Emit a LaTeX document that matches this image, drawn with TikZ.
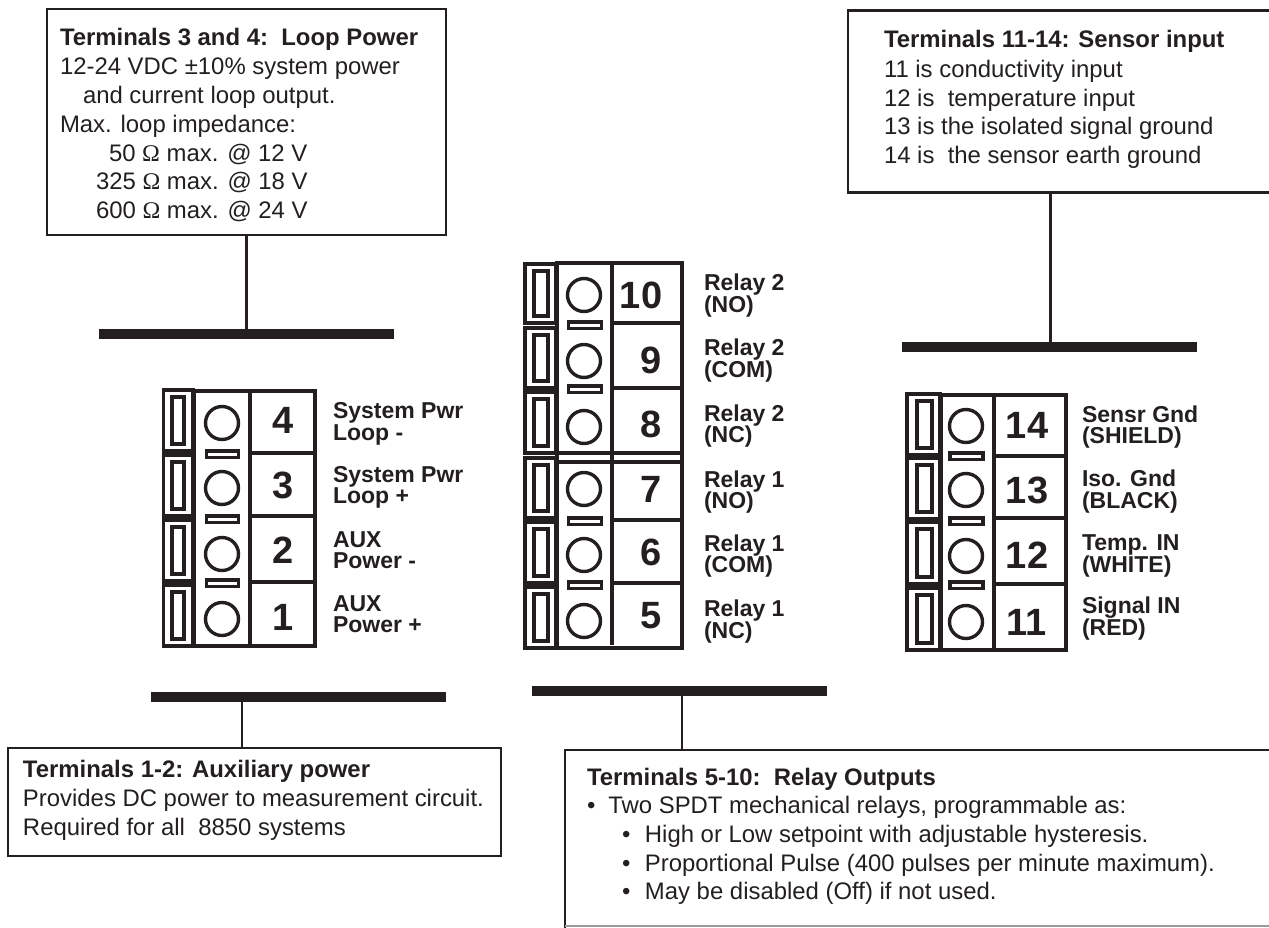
\documentclass[tikz,border=0pt]{standalone}
\usepackage{fontspec}
\setmainfont{Liberation Sans}
\newfontfamily\omegafont{Liberation Serif}
\definecolor{ink}{HTML}{231F20}
\tikzset{
  x=1pt,y=-1pt,
  ink lines/.style={draw=ink,line width=3.6pt},
  boxframe/.style={draw=ink,line width=2.6pt,fill=none,rectangle,inner sep=0pt,outer sep=0pt},
  connector/.style={draw=ink,line width=2.8pt},
  busbar/.style={fill=ink,draw=none,rectangle,inner sep=0pt,outer sep=0pt,minimum width=295pt,minimum height=10.5pt},
  bodytext/.style={anchor=base west,inner sep=0pt,outer sep=0pt,text=ink,font=\fontsize{23.9}{28}\selectfont},
  headtext/.style={bodytext,font=\fontsize{23.9}{28}\selectfont\bfseries},
  numtext/.style={anchor=base,inner sep=0pt,outer sep=0pt,text=ink,font=\fontsize{38}{40}\selectfont\bfseries},
  lbltext/.style={anchor=base west,inner sep=0pt,outer sep=0pt,text=ink,font=\fontsize{23}{23}\selectfont\bfseries},
}
\newcommand{\ohm}{{\omegafont Ω}}
\newcommand{\tabrow}[6]{%
  \draw[ink lines] (#1,#5) rectangle (#2,#6);
  \draw[ink lines] (#3,#5+7) rectangle (#4,#6-7);
}
\newcommand{\slit}[3]{\draw[draw=ink,line width=3.4pt] (#1,#3) rectangle (#2,#3+6.5);}
\begin{document}
\begin{tikzpicture}
\useasboundingbox (0,0) rectangle (1269,927);
\clip (0,0) rectangle (1269,927);

% ---- text boxes
\node[boxframe,minimum width=399pt,minimum height=226pt] (box1) at (246.5,122) {};
\node[boxframe,minimum width=440pt,minimum height=182pt] (box2) at (1068,101.5) {};
\node[boxframe,minimum width=493pt,minimum height=108pt] (box3) at (254.5,802) {};
\node[boxframe,minimum width=720pt,minimum height=178pt,draw=none] (box4) at (925,839) {};
\draw[draw=ink,line width=2.6pt] (box4.south west) -- (box4.north west) -- (box4.north east);
\draw[draw=ink!45,line width=1.2pt] (box4.south west) ++(0,-2) -- ++(720,0);

% ---- bars and connectors
\node[busbar] (bar1) at (246.5,334) {};
\node[busbar] (bar2) at (1049.5,347) {};
\node[busbar] (bar3) at (298.5,697) {};
\node[busbar] (bar4) at (679.5,691) {};
\coordinate (j1) at (246.5,329);
\coordinate (j2) at (1050.5,342);
\coordinate (j3) at (242,702);
\coordinate (j4) at (682,696);
\draw[connector] (box1.south -| j1) -- (j1);
\draw[connector] (box2.south -| j2) -- (j2);
\draw[connector] (j3) -- (j3 |- box3.north);
\draw[connector] (j4) -- (j4 |- box4.north);

% ---- box 1 text
\node[headtext] (t1a) at (60,45) {Terminals 3 and 4:\ \ Loop Power};
\node[bodytext] (t1b) at (60,74) {12-24 VDC ±10\% system power};
\node[bodytext] (t1c) at (83,103) {and current loop output.};
\node[bodytext] (t1d) at (60,132) {Max. loop impedance:};
\node[bodytext] (t1e) at (109,161) {50 \ohm{} max. @ 12 V};
\node[bodytext] (t1f) at (96,189) {325 \ohm{} max. @ 18 V};
\node[bodytext] (t1g) at (96,218) {600 \ohm{} max. @ 24 V};

% ---- box 2 text
\node[headtext] (t2a) at (884,47) {Terminals 11-14: Sensor input};
\node[bodytext] (t2b) at (884,77) {11 is conductivity input};
\node[bodytext] (t2c) at (884,106) {12 is\ \ temperature input};
\node[bodytext] (t2d) at (884,134) {13 is the isolated signal ground};
\node[bodytext] (t2e) at (884,163) {14 is\ \ the sensor earth ground};

% ---- box 3 text
\node[headtext] (t3a) at (23,777) {Terminals 1-2: Auxiliary power};
\node[bodytext] (t3b) at (23,806) {Provides DC power to measurement circuit.};
\node[bodytext] (t3c) at (23,835) {Required for all\ \ 8850 systems};

% ---- box 4 text
\node[headtext] (t4a) at (587,785) {Terminals 5-10:\ \ Relay Outputs};
\node[bodytext] (t4b) at (587,813) {•\hspace{13pt}Two SPDT mechanical relays, programmable as:};
\node[bodytext] (t4c) at (622,842) {•\hspace{14.6pt}High or Low setpoint with adjustable hysteresis.};
\node[bodytext] (t4d) at (622,871) {•\hspace{14.6pt}Proportional Pulse (400 pulses per minute maximum).};
\node[bodytext] (t4e) at (622,899) {•\hspace{14.6pt}May be disabled (Off) if not used.};

% ---- terminal block 1..4
\foreach \a/\b in {390/451,455/516,520/581,585/646} {\tabrow{163.5}{193}{172}{184}{\a}{\b}}
\draw[ink lines] (194,391) rectangle (315,646);
\draw[ink lines] (250,391) -- (250,646);
\foreach \y in {453,516,582} \draw[ink lines] (250,\y) -- (315,\y);
\foreach \y in {423,488,554,619} \draw[draw=ink,line width=3.4pt] (222,\y) circle (16.5);
\foreach \y in {451,516,580} {\slit{206.5}{238.5}{\y}}
\foreach \n/\y in {4/433,3/498,2/563,1/630} \node[numtext] (n\n) at (283,\y) {\n};
\node[lbltext] (l4a) at (333,418) {System Pwr};
\node[lbltext] (l4b) at (333,440) {Loop -};
\node[lbltext] (l3a) at (333,482) {System Pwr};
\node[lbltext] (l3b) at (333,503) {Loop +};
\node[lbltext] (l2a) at (333,547) {AUX};
\node[lbltext] (l2b) at (333,568) {Power -};
\node[lbltext] (l1a) at (333,611) {AUX};
\node[lbltext] (l1b) at (333,632) {Power +};

% ---- terminal block 5..10
\foreach \a/\b in {264/323,328/388,392/453,458/518,522/583,587/648} {\tabrow{525}{556}{534}{548}{\a}{\b}}
\draw[ink lines] (557,263) rectangle (682,648);
\draw[ink lines] (612,263) -- (612,645);
\foreach \y in {323,388,520,583} \draw[ink lines] (612,\y) -- (682,\y);
\foreach \y in {453,462} \draw[ink lines] (557,\y) -- (682,\y);
\foreach \y in {295,361,427,489,555,621} \draw[draw=ink,line width=3.4pt] (584,\y) circle (16.5);
\foreach \y in {322,386,518,582} {\slit{568.5}{601.5}{\y}}
\node[numtext] (n10) at (641,308) {10};
\foreach \n/\y in {9/373,8/437,7/502,6/565,5/628} \node[numtext] (n\n) at (651,\y) {\n};
\node[lbltext] (l10a) at (704,290) {Relay 2};
\node[lbltext] (l10b) at (704,312) {(NO)};
\node[lbltext] (l9a) at (704,355) {Relay 2};
\node[lbltext] (l9b) at (704,377) {(COM)};
\node[lbltext] (l8a) at (704,421) {Relay 2};
\node[lbltext] (l8b) at (704,442) {(NC)};
\node[lbltext] (l7a) at (704,487) {Relay 1};
\node[lbltext] (l7b) at (704,508) {(NO)};
\node[lbltext] (l6a) at (704,551) {Relay 1};
\node[lbltext] (l6b) at (704,572) {(COM)};
\node[lbltext] (l5a) at (704,616) {Relay 1};
\node[lbltext] (l5b) at (704,638) {(NC)};

% ---- terminal block 11..14
\foreach \a/\b in {394/455,458/519,522/584,588/650} {\tabrow{907}{940}{917}{932}{\a}{\b}}
\draw[ink lines] (941,395) rectangle (1066,650);
\draw[ink lines] (994,395) -- (994,650);
\foreach \y in {456,518,584} \draw[ink lines] (994,\y) -- (1066,\y);
\foreach \y in {426,490,556,622} \draw[draw=ink,line width=3.4pt] (966,\y) circle (16.5);
\foreach \y in {453,518,582} {\slit{950}{983}{\y}}
\foreach \n/\y in {14/438,13/503,12/568,11/635} \node[numtext] (n\n) at (1027,\y) {\n};
\node[lbltext] (l14a) at (1082,422) {Sensr Gnd};
\node[lbltext] (l14b) at (1082,443) {(SHIELD)};
\node[lbltext] (l13a) at (1082,486) {Iso. Gnd};
\node[lbltext] (l13b) at (1082,508) {(BLACK)};
\node[lbltext] (l12a) at (1082,550) {Temp. IN};
\node[lbltext] (l12b) at (1082,572) {(WHITE)};
\node[lbltext] (l11a) at (1082,613) {Signal IN};
\node[lbltext] (l11b) at (1082,635) {(RED)};
\end{tikzpicture}
\end{document}
